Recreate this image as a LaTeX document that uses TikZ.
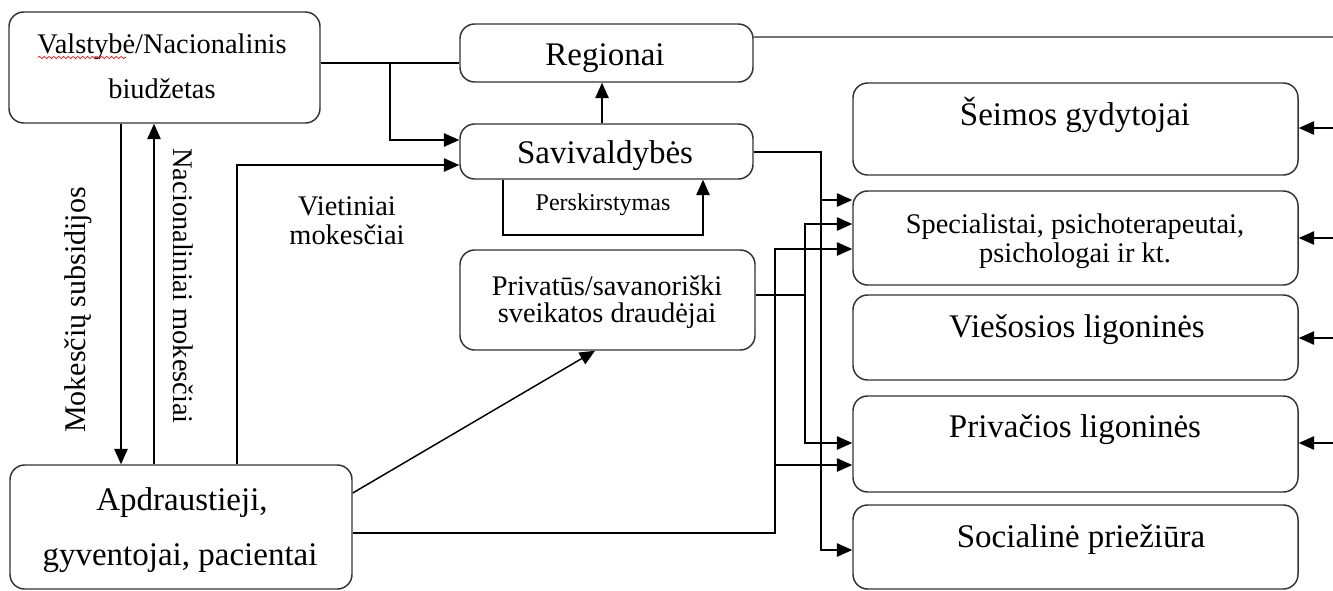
\documentclass[tikz,border=0pt]{standalone}
\usepackage{fontspec}
\setmainfont{Liberation Serif}
\usetikzlibrary{arrows.meta,fit,decorations.pathmorphing}
\begin{document}
\begin{tikzpicture}[x=0.75pt,y=-0.75pt,
  box/.style={draw=black!80, line width=1.1pt, rounded corners=11pt, inner sep=0pt},
  link/.style={draw=black, line width=1.1pt},
  arr/.style={link, -{Triangle[length=11.5pt,width=10pt]}},
  big/.style={font=\fontsize{24.75}{30}\selectfont, anchor=base, inner sep=0pt},
  mid/.style={font=\fontsize{21.3}{26}\selectfont, anchor=base, inner sep=0pt},
  small/.style={font=\fontsize{18}{22}\selectfont, anchor=base, inner sep=0pt}]
\useasboundingbox (0,0) rectangle (1333,590);

% ---- boxes ----
\node[box, fit={(9,12) (320,123)}]    (valst) {};
\node[box, fit={(460,24) (753,82)}]   (reg)   {};
\node[box, fit={(460,124) (753,179)}] (sav)   {};
\node[box, fit={(460,250) (755,350)}] (priv)  {};
\node[box, fit={(10,465) (352,589)}]  (apd)   {};
\node[box, fit={(853,83) (1298,175)}]  (seim) {};
\node[box, fit={(853,191) (1298,285)}] (spec) {};
\node[box, fit={(853,295) (1298,380)}] (vies) {};
\node[box, fit={(853,396) (1298,492)}] (prvl) {};
\node[box, fit={(853,505) (1298,589)}] (soc)  {};

% ---- box texts ----
\node[mid] (t-valst1) at (162,53) {Valstybė/Nacionalinis};
\node[mid] (t-valst2) at (162,98) {biudžetas};
\draw[red, line width=0.5pt, decorate,
      decoration={snake, amplitude=0.8pt, segment length=3.6pt}] (38,57.5) -- (126,57.5);
\node[big] (t-reg)  at (605,65)  {Regionai};
\node[big] (t-sav)  at (605,163) {Savivaldybės};
\node[small] (t-persk) at (603,210) {Perskirstymas};
\node[mid] (t-priv1) at (607,295) {Privatūs/savanoriški};
\node[mid] (t-priv2) at (607,322) {sveikatos draudėjai};
\node[big] (t-apd1) at (182,510) {Apdraustieji,};
\node[big] (t-apd2) at (180,565) {gyventojai, pacientai};
\node[big] (t-seim) at (1075,125) {Šeimos gydytojai};
\node[mid] (t-spec1) at (1075,233) {Specialistai, psichoterapeutai,};
\node[mid] (t-spec2) at (1075,262) {psichologai ir kt.};
\node[big] (t-vies) at (1077,337) {Viešosios ligoninės};
\node[big] (t-prvl) at (1075,437) {Privačios ligoninės};
\node[big] (t-soc)  at (1081,547) {Socialinė priežiūra};

% ---- flow labels ----
\node[font=\fontsize{22.5}{27}\selectfont, rotate=90, anchor=base, inner sep=0pt]
  (t-subs) at (85,310) {Mokesčių subsidijos};
\node[mid, rotate=-90] (t-nac) at (173,286) {Nacionaliniai mokesčiai};
\node[mid] (t-viet1) at (347,215) {Vietiniai};
\node[mid] (t-viet2) at (347,244) {mokesčiai};

% ---- free ends at the right border ----
\coordinate (e0) at (1333,37);
\coordinate (e1) at (1333,128);
\coordinate (e2) at (1333,238);
\coordinate (e3) at (1333,338);
\coordinate (e4) at (1333,443);

% ---- public funding flows ----
\draw[link] (valst.east |- 0,63) -- (reg.west |- 0,63);
\draw[arr] (390,63) -- (390,140) -- (sav.west |- 0,140);
\draw[arr] (apd.north -| 237,0) -- (237,165) -- (sav.west |- 0,165);
\draw[arr] (valst.south -| 121,0) -- (apd.north -| 121,0);
\draw[arr] (apd.north -| 154,0) -- (valst.south -| 154,0);
\draw[arr] (sav.north -| 602,0) -- (reg.south -| 602,0);
\draw[arr] (sav.south -| 503,0) -- (503,235) -- (703,235) -- (sav.south -| 703,0);
\draw[draw=black!55, line width=1.8pt] (reg.east |- e0) -- (e0);
\draw[arr] (apd.east |- 0,493) -- (priv.south -| 595,0);

% ---- payments to providers ----
\draw[arr] (sav.east |- 0,152) -- (821,152) -- (821,550) -- (soc.west |- 0,550);
\draw[arr] (821,200) -- (spec.west |- 0,200);
\draw[link] (priv.east |- 0,295) -- (805,295);
\draw[arr] (805,295) -- (805,224) -- (spec.west |- 0,224);
\draw[arr] (805,295) -- (805,443) -- (prvl.west |- 0,443);
\draw[arr] (apd.east |- 0,533) -- (775,533) -- (775,249) -- (spec.west |- 0,249);
\draw[arr] (775,465) -- (prvl.west |- 0,465);

% ---- inputs from the right ----
\draw[arr] (e1) -- (seim.east |- e1);
\draw[arr] (e2) -- (spec.east |- e2);
\draw[arr] (e3) -- (vies.east |- e3);
\draw[arr] (e4) -- (prvl.east |- e4);
\end{tikzpicture}
\end{document}
